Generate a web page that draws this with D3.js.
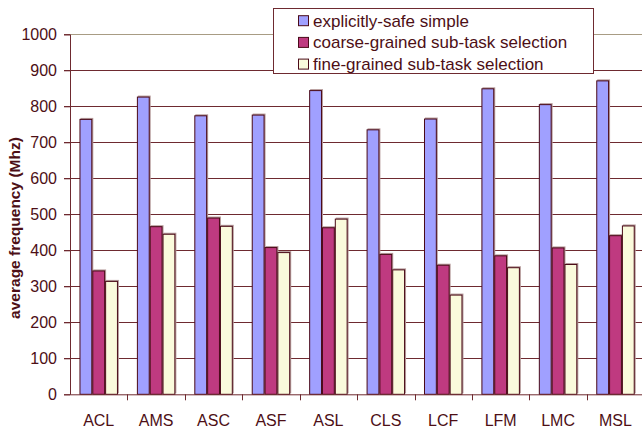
<!DOCTYPE html>
<html><head><meta charset="utf-8">
<script src="https://cdn.jsdelivr.net/npm/d3@7"></script>
<style>body{margin:0;background:#fff;}svg{display:block;font-family:"Liberation Sans",Arial,sans-serif;}</style>
</head><body>
<script>
const categories = ["ACL","AMS","ASC","ASF","ASL","CLS","LCF","LFM","LMC","MSL"];
const seriesNames = ["explicitly-safe simple","coarse-grained sub-task selection","fine-grained sub-task selection"];
const safeSimple = [765, 827, 775, 777, 845, 736, 766, 850, 806, 872];
const coarseGrained = [344, 467, 491, 409, 464, 390, 360, 386, 408, 442];
const fineGrained = [315, 446, 468, 395, 488, 347, 277, 353, 362, 469];
const yTicks = [0,100,200,300,400,500,600,700,800,900,1000];
const colors = ["#a0a0ff","#bf3a80","#fafadc"];
const seriesValues = [safeSimple, coarseGrained, fineGrained];

const W = 642, H = 429;
const FONT = "Liberation Sans, Arial, sans-serif";
const svg = d3.select("body").append("svg").attr("width", W).attr("height", H);
const textColor = "#4d0f16", gridColor = "#6e2a30", outline = "#4a0a18";

const x = d3.scaleBand().domain(categories).range([70, 644.2]).paddingInner(0.33).paddingOuter(0.165);
const xCat = d3.scaleBand().domain(categories).range([70, 644.2]);
const xs = d3.scaleBand().domain(d3.range(3)).range([0, x.bandwidth()]);
const y = d3.scaleLinear().domain([0, 1000]).range([394.3, 34.3]);

// gridlines
svg.append("g").selectAll("line").data(yTicks.filter(d => d > 0)).join("line")
  .attr("x1", 64).attr("x2", 644).attr("y1", d => y(d)).attr("y2", d => y(d))
  .attr("stroke", d => d === 1000 ? "#a89c84" : gridColor).attr("stroke-width", 1).attr("shape-rendering","crispEdges");

// bars
const groups = svg.append("g").selectAll("g").data(categories).join("g")
  .attr("transform", c => `translate(${x(c)},0)`);
groups.selectAll("rect.shadow").data((c, i) => seriesValues.map((s, k) => ({k, v: s[i]}))).join("rect")
  .attr("class","shadow")
  .attr("x", d => xs(d.k) + 1).attr("y", d => y(d.v) - 1)
  .attr("width", xs.bandwidth()).attr("height", d => y(0) - y(d.v))
  .attr("fill", "#b59a9a");
groups.selectAll("rect.bar").data((c, i) => seriesValues.map((s, k) => ({k, v: s[i]}))).join("rect")
  .attr("class","bar")
  .attr("x", d => xs(d.k) + 0.5).attr("y", d => y(d.v) + 0.5)
  .attr("width", xs.bandwidth() - 1).attr("height", d => y(0) - y(d.v) - 0.5)
  .attr("fill", d => colors[d.k]).attr("stroke", outline).attr("stroke-width", 1);

// y axis
const yAxis = svg.append("g").attr("transform", "translate(70,0)")
  .call(d3.axisLeft(y).tickValues(yTicks).tickSize(6).tickPadding(7).tickFormat(d3.format("d")));
yAxis.attr("font-family", FONT);
yAxis.select(".domain").attr("stroke", gridColor);
yAxis.selectAll(".tick line").attr("stroke", gridColor);
yAxis.selectAll("text").attr("fill", textColor).attr("font-size", 16).attr("font-family", FONT);

// x axis
const xAxis = svg.append("g").attr("transform", `translate(0,${y(0)})`)
  .call(d3.axisBottom(xCat).tickSize(0).tickPadding(20));
xAxis.attr("font-family", FONT);
xAxis.select(".domain").attr("stroke", gridColor);
xAxis.selectAll("text").attr("fill", textColor).attr("font-size", 16).attr("font-family", FONT);
// boundary ticks
svg.append("g").selectAll("line").data(categories.slice(1)).join("line")
  .attr("x1", c => Math.round(xCat(c)) + 0.5).attr("x2", c => Math.round(xCat(c)) + 0.5)
  .attr("y1", y(0)).attr("y2", y(0) + 6).attr("stroke", gridColor);

// y title
svg.append("text").attr("transform", "translate(19.5,228) rotate(-90)")
  .attr("text-anchor", "middle").attr("font-weight", "bold").attr("font-size", 15.5)
  .attr("font-family", FONT).attr("fill", textColor).text("average frequency (Mhz)");

// legend
const lg = svg.append("g");
lg.append("rect").attr("x", 273.5).attr("y", 8.5).attr("width", 320).attr("height", 65)
  .attr("fill", "#fff").attr("stroke", gridColor);
const items = lg.selectAll("g").data(seriesNames).join("g")
  .attr("transform", (d, i) => `translate(298,${20.7 + i * 21.7})`);
items.append("rect").attr("x", 0.5).attr("y", -5).attr("width", 10).attr("height", 10)
  .attr("fill", (d, i) => colors[i]).attr("stroke", outline);
items.append("text").attr("x", 15).attr("y", 0).attr("dy", "0.35em")
  .attr("font-size", 17).attr("font-family", FONT).attr("fill", textColor).text(d => d);
</script>
</body></html>
